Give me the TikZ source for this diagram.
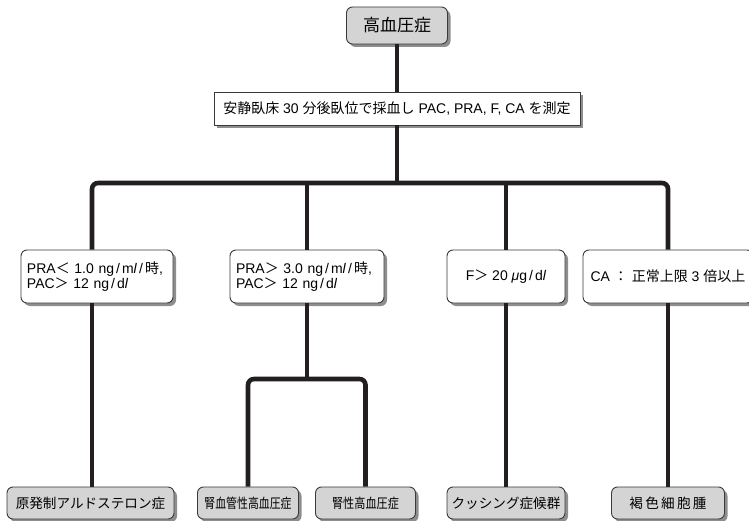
\documentclass[tikz,border=0pt]{standalone}
\usepackage{fontspec}
\setmainfont{Liberation Sans}
\newfontfamily\cjk{Noto Sans CJK JP}
\usepackage{graphicx}
\usetikzlibrary{shadows}
\newcommand{\jpn}[1]{{\cjk #1}}
\newcommand{\slsh}{\kern2pt/\kern2pt}
\definecolor{ln}{HTML}{231F20}
\definecolor{bd}{HTML}{3A3A3A}
\definecolor{bx}{HTML}{D4D4D4}
\definecolor{sh}{HTML}{8E8E8E}
\tikzset{
  conn/.style={line width=4.6pt, draw=ln, rounded corners=6pt},
  base/.style={draw=bd, line width=0.9pt, inner sep=0pt,
    drop shadow={shadow xshift=3pt, shadow yshift=-3pt, fill=sh, opacity=1}},
  graybox/.style={base, fill=bx, rounded corners=6pt},
  whitebox/.style={base, fill=white},
  condbox/.style={base, fill=white, rounded corners=6pt, minimum height=53pt,
    font=\fontsize{14}{15.5}\selectfont},
  resbox/.style={base, fill=bx, rounded corners=6pt, minimum height=32pt,
    font=\fontsize{13.6}{16}\selectfont},
}
\begin{document}
\begin{tikzpicture}[x=1pt,y=-1pt,font=\fontsize{13}{15}\selectfont]
\useasboundingbox (0,0) rectangle (749,521);
\clip (0,0) rectangle (749,521);

% top
\node[graybox, minimum width=101pt, minimum height=37pt,
  font=\fontsize{17}{18}\selectfont] (top) at (397,25.5) {\jpn{高血圧症}};
\node[whitebox, minimum width=366pt, minimum height=33pt,
  font=\fontsize{14}{16}\selectfont] (meas) at (397,108.5)
  {\jpn{安静臥床} 30 \jpn{分後臥位で採血し} PAC, PRA, F, CA \jpn{を測定}};

% conditions
\node[condbox, text width=140pt, inner xsep=6pt, align=left] (c1) at (97,276.5)
  {PRA\jpn{＜} 1.0 ng\slsh m\textit{l}\slsh\jpn{時},\\PAC\jpn{＞} 12 ng\slsh d\textit{l}};
\node[condbox, text width=142pt, inner xsep=6pt, align=left] (c2) at (307,276.5)
  {PRA\jpn{＞} 3.0 ng\slsh m\textit{l}\slsh\jpn{時},\\PAC\jpn{＞} 12 ng\slsh d\textit{l}};
\node[condbox, minimum width=118pt] (c3) at (506,276.5)
  {F\jpn{＞} 20 \textit{μ}g\slsh d\textit{l}};
\node[condbox, minimum width=170pt] (c4) at (668,276.5)
  {CA \jpn{：} \jpn{正常上限} 3 \jpn{倍以上}};

% results
\node[resbox, minimum width=167pt] (b1) at (90.5,503) {\jpn{原発制アルドステロン症}};
\node[resbox, minimum width=101pt] (b2) at (248,503) {\scalebox{0.8}[1]{\jpn{腎血管性高血圧症}}};
\node[resbox, minimum width=100pt] (b3) at (365.5,503) {\scalebox{0.82}[1]{\jpn{腎性高血圧症}}};
\node[resbox, minimum width=118pt] (b4) at (506,503) {\jpn{クッシング症候群}};
\node[resbox, minimum width=113pt] (b5) at (668,503) {\jpn{褐\,色\,細\,胞\,腫}};

% connectors
\coordinate (bus) at (397,183);
\coordinate (sub) at (307,379);
\coordinate (v1) at (92,0);
\draw[conn] (top.south) -- (meas.north);
\draw[conn] (meas.south) -- (bus);
\draw[conn] (c1.north -| v1) |- (bus) -| (c4.north);
\draw[conn] (bus -| c2.north) -- (c2.north);
\draw[conn] (bus -| c3.north) -- (c3.north);
\draw[conn] (c1.south -| v1) -- (b1.north -| v1);
\draw[conn] (c2.south) -- (sub);
\draw[conn] (b2.north) |- (sub) -| (b3.north);
\draw[conn] (c3.south) -- (b4.north);
\draw[conn] (c4.south) -- (b5.north);
\end{tikzpicture}
\end{document}
